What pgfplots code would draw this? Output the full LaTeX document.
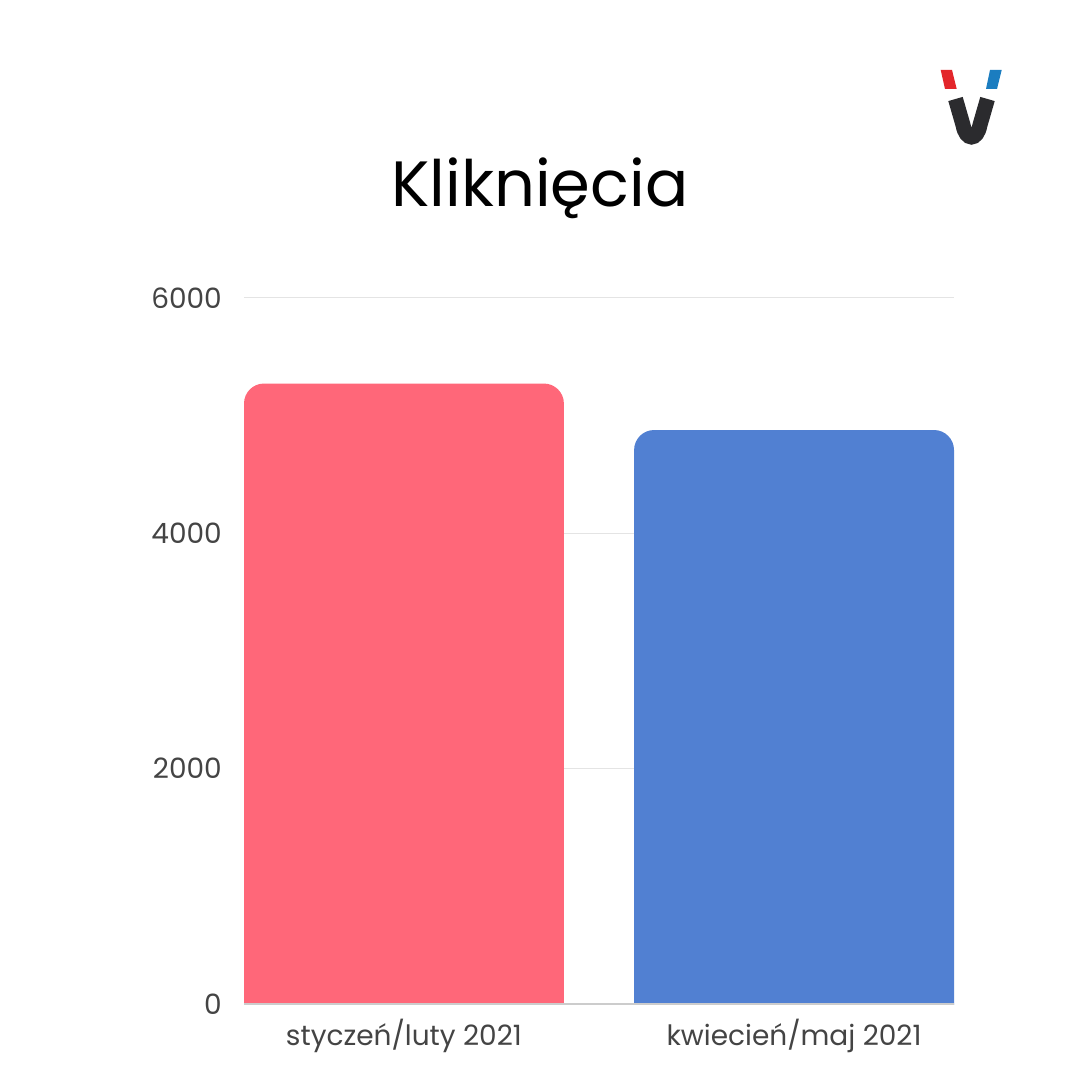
\documentclass[border=0pt]{standalone}
\usepackage{fontspec}
\setmainfont{Poppins}
\usepackage{pgfplots}
\pgfplotsset{compat=1.18}
\definecolor{barred}{HTML}{FF6779}
\definecolor{barblue}{HTML}{5180D2}
\definecolor{txt}{HTML}{444444}
\definecolor{gridc}{HTML}{E4E4E4}
\definecolor{basec}{HTML}{CCCCCC}
\definecolor{logored}{HTML}{E3262B}
\definecolor{logoblue}{HTML}{1B7DC0}
\definecolor{logodark}{HTML}{2B2B2E}
\begin{document}
\begin{tikzpicture}[x=1pt,y=1pt]
\fill[white] (0,0) rectangle (1080,1080);
\node[anchor=base,inner sep=0pt,font=\fontsize{64}{72}\selectfont] at (540,873) {Kliknięcia};
% logo
\fill[logored] (940.7,1010) -- (952,1010) -- (956.7,991) -- (945,991) -- cycle;
\fill[logoblue] (990,1010) -- (1001.7,1010) -- (997,991) -- (986,991) -- cycle;
\draw[logodark,line width=15pt] (955.5,981) -- (963,955) .. controls (966,939) and (977,939) .. (980,955) -- (987.5,981);
\begin{axis}[
  at={(244pt,76pt)}, anchor=south west,
  scale only axis, width=710pt, height=706pt,
  xmin=-0.41, xmax=1.41, ymin=0, ymax=6000,
  axis line style={draw=none},
  tick style={draw=none},
  ytick={0,2000,4000,6000},
  ymajorgrids, grid style={gridc, line width=1pt},
  xtick={0,1},
  xticklabels={styczeń/luty 2021, kwiecień/maj 2021},
  yticklabel style={font=\fontsize{28}{32}\selectfont, text=txt, anchor=east, inner sep=0pt, xshift=-22pt},
  xticklabel style={font=\fontsize{28}{32}\selectfont, text=txt, anchor=base, inner sep=0pt, yshift=-41pt},
  /pgf/number format/assume math mode=true,
  /pgf/number format/1000 sep={},
  scaled y ticks=false,
]
\addplot[ybar, bar width=0.82, bar shift=0pt, fill=barred, draw=none, rounded corners=20pt,
  y filter/.expression={y+300}, yshift=-35.3pt] coordinates {(0,5273)};
\addplot[ybar, bar width=0.82, bar shift=0pt, fill=barblue, draw=none, rounded corners=20pt,
  y filter/.expression={y+300}, yshift=-35.3pt] coordinates {(1,4878)};
\draw[basec, line width=1.2pt] (axis cs:-0.41,0) -- (axis cs:1.41,0);
\end{axis}
\end{tikzpicture}
\end{document}
